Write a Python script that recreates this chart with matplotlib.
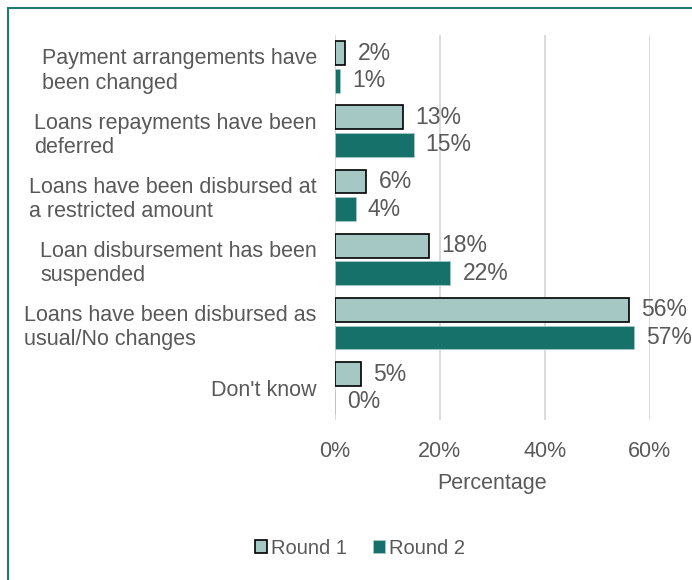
import numpy as np
import matplotlib.pyplot as plt
from matplotlib.patches import Rectangle

plt.rcParams['font.family'] = ['Liberation Sans', 'DejaVu Sans']

# 数据
categories = ['Payment arrangements have\nbeen changed',
              'Loans repayments have been\ndeferred',
              'Loans have been disbursed at\na restricted amount',
              'Loan disbursement has been\nsuspended',
              'Loans have been disbursed as\nusual/No changes',
              "Don't know"]
round1 = [2, 13, 6, 18, 56, 5]
round2 = [1, 15, 4, 22, 57, 0]
xticks = [0, 20, 40, 60]

c_light = '#a6c8c5'
c_dark = '#17716b'
c_text = '#595959'
fs = 15.5

fig = plt.figure(figsize=(6.92, 5.8), dpi=100)
ax = fig.add_axes([0.484, 0.276, 0.455, 0.664])

y = np.arange(len(categories))
h = 0.37
off = 0.215
ax.barh(y - off, round1, height=h, color=c_light, edgecolor='black',
        linewidth=1.2, label='Round 1', zorder=3)
ax.barh(y + off, round2, height=h, color=c_dark, edgecolor=c_light,
        linewidth=0.6, label='Round 2', zorder=3)

for yi, v in zip(y, round1):
    ax.text(v + 2.3, yi - off, f'{v}%', va='center', ha='left',
            fontsize=16.5, color=c_text, clip_on=False)
for yi, v in zip(y, round2):
    ax.text(v + 2.3, yi + off, f'{v}%', va='center', ha='left',
            fontsize=16.5, color=c_text, clip_on=False)

ax.set_xlim(0, 60)
ax.set_ylim(len(categories) - 0.5, -0.5)
ax.set_xticks(xticks)
ax.set_xticklabels([f'{t}%' for t in xticks], fontsize=fs, color=c_text)
ax.set_yticks(y)
ax.set_yticklabels(categories, fontsize=fs, color=c_text,
                   ha='right', multialignment='left')
ax.tick_params(length=0, pad=13)
ax.tick_params(axis='x', pad=15)
ax.xaxis.grid(True, color='#d9d9d9', linewidth=1.3, zorder=0)
for s in ax.spines.values():
    s.set_visible(False)
ax.set_xlabel('Percentage', fontsize=fs, color=c_text, labelpad=8)

leg = fig.legend(loc='center', bbox_to_anchor=(0.52, 0.055), ncol=2,
                 frameon=False, fontsize=14.5, handlelength=0.6,
                 handleheight=0.6, handletextpad=0.2, columnspacing=1.3)
for t in leg.get_texts():
    t.set_color(c_text)

# 外框
fig.patches.append(Rectangle((8 / 692, -0.01), 1.0, 1 - 8 / 580 + 0.01,
                             transform=fig.transFigure, fill=False,
                             edgecolor='#1f7a72', linewidth=1.5))

fig.savefig('out.png', dpi=100, facecolor='white')
